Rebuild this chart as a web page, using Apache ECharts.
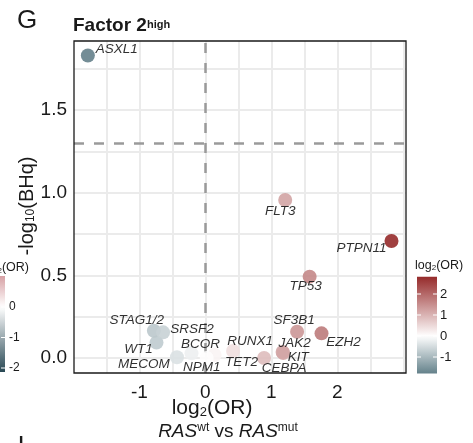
<!DOCTYPE html>
<html><head><meta charset="utf-8">
<script src="https://cdn.jsdelivr.net/npm/echarts@6/dist/echarts.min.js"></script>
<style>html,body{margin:0;padding:0;background:#fff}#c{width:473px;height:443px}</style>
</head><body><div id="c"></div>
<script>
// ---------- data ----------
const genes = ['ASXL1','FLT3','PTPN11','TP53','SF3B1','EZH2','JAK2','KIT','CEBPA','RUNX1','TET2','NPM1','BCOR','MECOM','WT1','STAG1/2','SRSF2'];
const log2OR = [-1.78,1.21,2.82,1.58,1.39,1.76,1.17,1.18,0.89,0.42,0.14,0.02,-0.21,-0.43,-0.74,-0.78,-0.64];
const negLog10BHq = [1.83,0.956,0.708,0.492,0.159,0.149,0.036,0.030,0.000,0.042,0.018,0.000,0.028,0.004,0.093,0.165,0.155];
const xTicks = [-1,0,1,2];
const yTicks = [0,0.5,1,1.5];
const xGrid = [-1.5,-1,-0.5,0,0.5,1,1.5,2,2.5,3];
const yGrid = [0,0.25,0.5,0.75,1,1.25,1.5,1.75];
const legendTicks = [-1,0,1,2];
const leftLegendTicks = [0,-1,-2];
const qThreshold = 0.05;

// ---------- styling ----------
const labelOffsets = [[29,-6],[-5,11],[-30,7],[-4,10],[-3,-11],[22,9],[12,-9],[15,4],[20,10],[17,-10],[27,7],[-5,9],[9,-9],[-33,7],[-18,7],[-17,-10],[29,-3]];
const FONT = '"Liberation Sans", Arial, Helvetica, sans-serif';
const INK = '#1a1a1a';
const LOW=[99,128,138], HIGH=[150,43,43], WHITE=[255,255,255];
function mix(a,b,t){return a.map((v,i)=>Math.round(v+(b[i]-v)*t));}
function rgb(c){return 'rgb('+c.join(',')+')';}
function colorAt(v){ return rgb(v<0 ? mix(WHITE,LOW,Math.min(1,-v/1.8)) : mix(WHITE,HIGH,Math.min(1,v/2.82))); }
const LLOW=[40,72,84], LHIGH=[214,160,164];
function leftColorAt(v){ return rgb(v<0 ? mix(WHITE,LLOW,Math.min(1,-v/2.13)) : mix(WHITE,LHIGH,Math.min(1,v/1.02))); }

const chart = echarts.init(document.getElementById('c'), null, {renderer:'canvas'});

const scatterData = genes.map((g,i)=>({
  name:g, value:[log2OR[i], negLog10BHq[i]],
  itemStyle:{color: colorAt(log2OR[i])},
  label:{offset: labelOffsets[i]}
}));

// legend (right) geometry
const lgY = v => 294 - (v-2)*21;
const lgMax = Math.max(...log2OR), lgMin = Math.min(...log2OR);
const nStops = 24;
const lgStops = [];
for(let i=0;i<nStops;i++){const t=i/(nStops-1); const v=lgMax+(lgMin-lgMax)*t; lgStops.push({offset:t,color:colorAt(v)});}
const llY = v => 307 - v*30.5;
const llTop = 1.02, llBot = -2.13;
const llStops = [];
for(let i=0;i<nStops;i++){const t=i/(nStops-1); const v=llTop+(llBot-llTop)*t; llStops.push({offset:t,color:leftColorAt(v)});}

const graphics = [];
function txt(text,x,y,font,align,extra){ graphics.push(Object.assign({type:'text',x:x,y:y,z:10,style:{text:text,font:font,fill:INK,textAlign:align||'left',textVerticalAlign:'middle'}},extra||{})); }
txt('G',17,21,'normal 26px '+FONT);
txt('Factor 2',73,25.5,'bold 19px '+FONT);
txt('high',147,24.5,'bold 11px '+FONT);
// panel border
graphics.push({type:'rect',z:20,silent:true,shape:{x:74,y:41,width:332,height:332},style:{fill:null,stroke:INK,lineWidth:1.3}});
// y axis title
graphics.push({type:'text',x:27,y:206,rotation:Math.PI/2,z:10,style:{
  text:'{a|-log}{b|10}{a|(BHq)}',textAlign:'center',textVerticalAlign:'middle',fill:INK,
  rich:{a:{font:'20px '+FONT,fill:INK},b:{font:'12px '+FONT,fill:INK,verticalAlign:'bottom'}}}});
// x axis title
graphics.push({type:'text',x:212,y:408.5,z:10,style:{
  text:'{a|log}{b|2}{a|(OR)}',textAlign:'center',textVerticalAlign:'middle',fill:INK,
  rich:{a:{font:'21px '+FONT,fill:INK},b:{font:'13px '+FONT,fill:INK,verticalAlign:'bottom'}}}});
graphics.push({type:'text',x:228,y:431.5,z:10,style:{
  text:'{i|RAS}{s|wt}{a| vs }{i|RAS}{s|mut}',textAlign:'center',textVerticalAlign:'middle',fill:INK,
  rich:{a:{font:'19px '+FONT,fill:INK},i:{font:'italic 19px '+FONT,fill:INK},s:{font:'12px '+FONT,fill:INK,verticalAlign:'top'}}}});
// right legend
graphics.push({type:'text',x:415,y:265.5,z:10,style:{
  text:'{a|log}{b|2}{a|(OR)}',textAlign:'left',textVerticalAlign:'middle',fill:INK,
  rich:{a:{font:'12.5px '+FONT,fill:INK},b:{font:'8px '+FONT,fill:INK,verticalAlign:'bottom'}}}});
graphics.push({type:'rect',z:10,shape:{x:417,y:lgY(lgMax),width:20,height:lgY(lgMin)-lgY(lgMax)},
  style:{fill:new echarts.graphic.LinearGradient(0,0,0,1,lgStops)}});
legendTicks.forEach(v=>{
  const y=lgY(v);
  graphics.push({type:'line',z:11,shape:{x1:417,y1:y,x2:421,y2:y},style:{stroke:'#fff',lineWidth:1}});
  graphics.push({type:'line',z:11,shape:{x1:433,y1:y,x2:437,y2:y},style:{stroke:'#fff',lineWidth:1}});
  txt(String(v),440,y,'13px '+FONT);
});
// left (cropped) legend
graphics.push({type:'text',x:29,y:268,z:10,style:{
  text:'{a|log}{b|2}{a|(OR)}',textAlign:'right',textVerticalAlign:'middle',fill:INK,
  rich:{a:{font:'12.5px '+FONT,fill:INK},b:{font:'8px '+FONT,fill:INK,verticalAlign:'bottom'}}}});
graphics.push({type:'rect',z:10,shape:{x:-15,y:llY(llTop),width:20,height:llY(llBot)-llY(llTop)},
  style:{fill:new echarts.graphic.LinearGradient(0,0,0,1,llStops)}});
leftLegendTicks.forEach(v=>{
  const y=llY(v);
  graphics.push({type:'line',z:11,shape:{x1:1,y1:y,x2:5,y2:y},style:{stroke:'#fff',lineWidth:1}});
  txt(String(v),9,y,'12px '+FONT);
});
txt('I',17.6,446.5,'normal 26px '+FONT);

const option = {
  animation:false,
  backgroundColor:'#fff',
  grid:{left:74,top:41,width:332,height:332,show:false},
  xAxis:{type:'value',min:-1.99,max:3.04,splitLine:{show:false},
    axisLine:{show:false},
    axisTick:{show:true,customValues:xTicks,length:4,lineStyle:{color:'#333'}},
    axisLabel:{customValues:xTicks,fontSize:19,fontFamily:FONT,color:INK,margin:10}},
  yAxis:{type:'value',min:-0.091,max:1.918,splitLine:{show:false},
    axisLine:{show:false},
    axisTick:{show:true,customValues:yTicks,length:4,lineStyle:{color:'#333'}},
    axisLabel:{customValues:yTicks,fontSize:19,fontFamily:FONT,color:INK,margin:7,formatter:v=>v.toFixed(1)}},
  series:[
    {type:'line',data:[],z:1,silent:true,
      markLine:{silent:true,symbol:'none',animation:false,label:{show:false},
        lineStyle:{color:'#ebebeb',width:2,type:'solid'},
        data:[...xGrid.map(x=>({xAxis:x})),...yGrid.map(y=>({yAxis:y}))]}},
    {type:'line',data:[],z:2,silent:true,
      markLine:{silent:true,symbol:'none',animation:false,label:{show:false},
        lineStyle:{color:'#9a9a9a',width:2.5,type:[10,10]},
        data:[{xAxis:0},{yAxis:-Math.log10(qThreshold)}]}},
    {type:'scatter',z:5,symbol:'circle',symbolSize:14,data:scatterData,
      itemStyle:{opacity:0.9},
      label:{show:true,position:'inside',formatter:'{b}',fontStyle:'italic',fontSize:13.5,fontFamily:FONT,color:INK,align:'center',verticalAlign:'middle'}}
  ],
  graphic:graphics
};
chart.setOption(option);
</script></body></html>
